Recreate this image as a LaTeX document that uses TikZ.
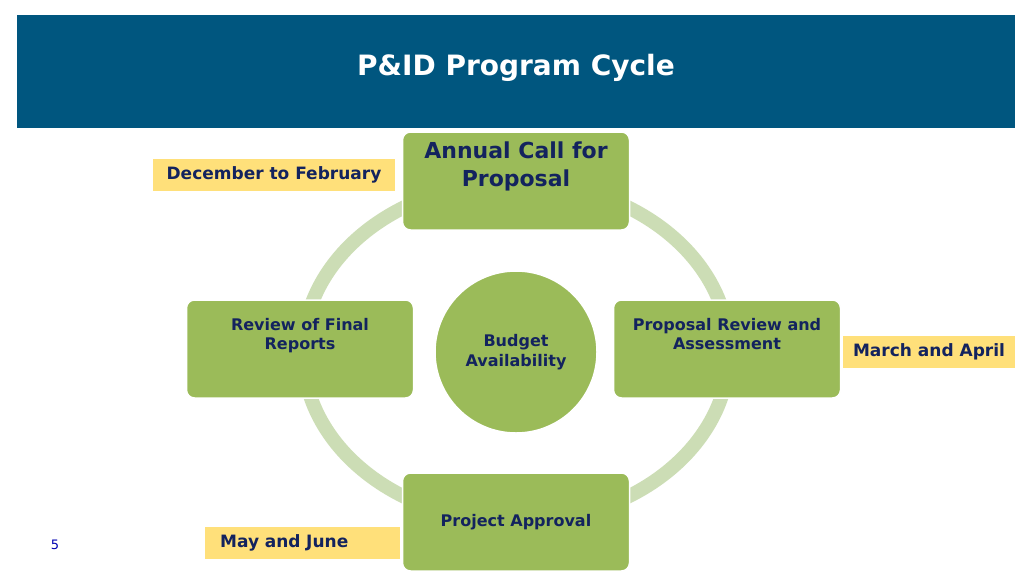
\documentclass[tikz,border=0pt]{standalone}
\usepackage{fontspec}
\setmainfont{DejaVu Sans}
\definecolor{hdr}{HTML}{00567F}
\definecolor{ring}{HTML}{CCDDB5}
\definecolor{gbox}{HTML}{9BBB59}
\definecolor{navy}{HTML}{13235E}
\definecolor{ylw}{HTML}{FFE07A}
\begin{document}
\begin{tikzpicture}[x=1pt,y=-1pt,
 gb/.style={draw=white,line width=1.5pt,fill=gbox,rounded corners=8pt,text=navy,font=\bfseries\fontsize{16}{19}\selectfont,align=center,minimum width=227pt,minimum height=98pt,inner sep=2pt},
 lab/.style={fill=ylw,text=navy,font=\bfseries\fontsize{17}{20}\selectfont,minimum height=32pt,inner sep=0pt}]
\useasboundingbox (0,0) rectangle (1024,576);
\fill[white] (0,0) rectangle (1024,576);
\fill[hdr] (17,15) rectangle (1015,128);
\node[text=white,font=\bfseries\fontsize{28}{32}\selectfont] (title) at (516,68) {P\&ID Program Cycle};
\draw[ring,line width=14pt] (516,352) ellipse [x radius=213, y radius=170];
\node[gb,font=\bfseries\fontsize{22}{28}\selectfont,anchor=center] (top) at (516,181) {Annual Call for\\Proposal\\[-2pt]\strut};
\node[gb] (left) at (300,349) {Review of Final\\Reports\\[6pt]\strut};
\node[gb] (right) at (727,349) {Proposal Review and\\Assessment\\[6pt]\strut};
\node[gb] (bot) at (516,522) {Project Approval};
\node[circle,draw=white,line width=1.5pt,fill=gbox,minimum size=162pt,text=navy,font=\bfseries\fontsize{16}{20}\selectfont,align=center] (mid) at (516,352) {Budget\\Availability};
\node[lab,minimum width=242pt] (l1) at (274,175) {December to February};
\node[lab,minimum width=172pt] (l2) at (929,352) {March and April};
\node[lab,minimum width=195pt,anchor=west,text width=185pt,align=left] (l3) at (205,543) {\hspace{10pt}May and June};
\node[text=blue!70!black,font=\fontsize{13}{15}\selectfont] (pg) at (55,545) {5};
\end{tikzpicture}
\end{document}
